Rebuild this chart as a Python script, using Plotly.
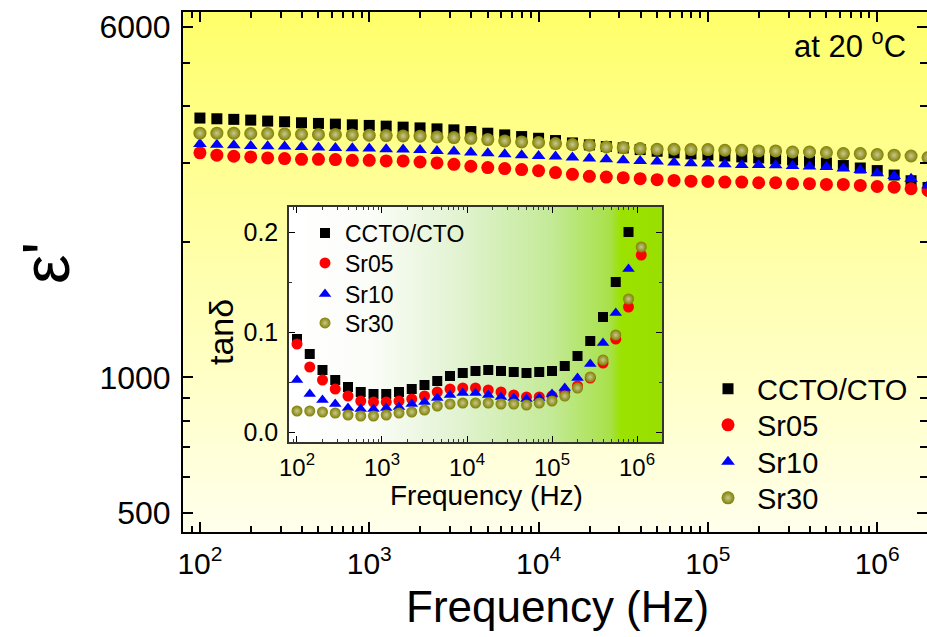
import base64
import plotly.graph_objects as go

# ---------------- data ----------------
freq_main = [100, 125.9, 158.5, 199.5, 251.2, 316.2, 398.1, 501.2, 631.0, 794.3,
             1000, 1259, 1585, 1995, 2512, 3162, 3981, 5012, 6310, 7943,
             10000, 12589, 15849, 19953, 25119, 31623, 39811, 50119, 63096, 79433,
             100000, 125893, 158489, 199526, 251189, 316228, 398107, 501187, 630957, 794328,
             1000000, 1258925, 1584893, 1995262]

eps_ccto = [3767, 3753, 3742, 3728, 3709, 3696, 3677, 3665, 3652, 3639,
            3628, 3614, 3596, 3582, 3564, 3546, 3516, 3486, 3456, 3427,
            3397, 3358, 3317, 3284, 3257, 3234, 3206, 3179, 3153, 3136,
            3120, 3103, 3088, 3072, 3056, 3040, 3020, 2994, 2955, 2918,
            2880, 2815, 2734, 2642]
eps_sr05 = [3153, 3115, 3099, 3088, 3072, 3062, 3051, 3051, 3046, 3035,
            3035, 3025, 3025, 3009, 2994, 2974, 2944, 2924, 2909, 2894,
            2879, 2850, 2825, 2796, 2786, 2777, 2763, 2749, 2738, 2728,
            2724, 2715, 2715, 2706, 2706, 2693, 2693, 2683, 2683, 2669,
            2655, 2646, 2624, 2601]
eps_sr10 = [3297, 3285, 3278, 3267, 3262, 3257, 3250, 3240, 3234, 3228,
            3223, 3212, 3206, 3200, 3184, 3174, 3157, 3146, 3130, 3115,
            3103, 3094, 3078, 3062, 3051, 3035, 3025, 3016, 3000, 2989,
            2985, 2974, 2963, 2963, 2958, 2948, 2939, 2933, 2909, 2888,
            2840, 2800, 2763, 2669]
eps_sr30 = [3486, 3486, 3486, 3481, 3481, 3474, 3468, 3463, 3463, 3456,
            3450, 3445, 3438, 3433, 3420, 3410, 3397, 3375, 3351, 3334,
            3324, 3307, 3290, 3278, 3250, 3240, 3223, 3212, 3212, 3206,
            3206, 3195, 3195, 3184, 3184, 3167, 3167, 3157, 3141, 3141,
            3125, 3115, 3103, 3078]

freq_inset = [100, 141.3, 199.5, 281.8, 398.1, 562.3, 794.3, 1122, 1585, 2239,
              3162, 4467, 6310, 8913, 12589, 17783, 25119, 35481, 50119, 70795,
              100000, 141254, 199526, 281838, 398107, 562341, 794328, 1122018]

tan_ccto = [0.093, 0.078, 0.062, 0.052, 0.045, 0.040, 0.038, 0.038, 0.040, 0.043,
            0.047, 0.051, 0.056, 0.059, 0.061, 0.062, 0.061, 0.060, 0.059, 0.060,
            0.061, 0.066, 0.076, 0.091, 0.115, 0.150, 0.200, 0.26]
tan_sr05 = [0.088, 0.065, 0.052, 0.043, 0.036, 0.031, 0.030, 0.030, 0.031, 0.033,
            0.036, 0.040, 0.043, 0.044, 0.044, 0.042, 0.040, 0.037, 0.035, 0.035,
            0.036, 0.040, 0.046, 0.054, 0.069, 0.093, 0.125, 0.177]
tan_sr10 = [0.052, 0.038, 0.032, 0.028, 0.024, 0.023, 0.023, 0.024, 0.025, 0.028,
            0.030, 0.034, 0.037, 0.039, 0.039, 0.037, 0.035, 0.034, 0.033, 0.034,
            0.038, 0.044, 0.054, 0.068, 0.089, 0.119, 0.163, 0.228]
tan_sr30 = [0.021, 0.021, 0.020, 0.019, 0.017, 0.016, 0.016, 0.017, 0.019, 0.020,
            0.022, 0.026, 0.028, 0.029, 0.029, 0.029, 0.028, 0.028, 0.027, 0.029,
            0.031, 0.036, 0.044, 0.055, 0.072, 0.097, 0.133, 0.185]

series_names = ["CCTO/CTO", "Sr05", "Sr10", "Sr30"]

x_tickvals = [1e2, 1e3, 1e4, 1e5, 1e6]
x_ticktext = ["10<sup>2</sup>", "10<sup>3</sup>", "10<sup>4</sup>", "10<sup>5</sup>", "10<sup>6</sup>"]
y_tickvals = [500, 1000, 6000]
y_ticktext = ["500", "1000", "6000"]
y_minor = [600, 700, 800, 900, 2000, 3000, 4000, 5000]
tan_tickvals = [0.0, 0.1, 0.2]
tan_ticktext = ["0.0", "0.1", "0.2"]

# ---------------- styling ----------------
W, H = 927, 637
FONT = "Liberation Sans, Arial, sans-serif"
colors = ["#000000", "#ff0000", "#0000ff", "#7f7f00"]
symbols = ["square", "circle", "triangle-up", "circle"]
SPHERE = "#c8c890"

x_minor = [m * 10 ** e for e in range(1, 7) for m in range(2, 10)]


def px_x(p):
    return p / W


def px_y(p):
    return 1 - p / H


# main plot area in pixels
ML, MR, MT, MB = 183, 927, 12, 532
# inset plot area in pixels
IL, IR, IT, IB = 289, 662, 207, 442


def svg_uri(svg):
    return "data:image/svg+xml;base64," + base64.b64encode(svg.encode()).decode()


main_bg = svg_uri(
    '<svg xmlns="http://www.w3.org/2000/svg" width="100" height="100" preserveAspectRatio="none">'
    '<defs><linearGradient id="g" x1="0" y1="0" x2="0" y2="1">'
    '<stop offset="0" stop-color="#ffff6a"/><stop offset="0.5" stop-color="#ffffae"/>'
    '<stop offset="1" stop-color="#ffffec"/></linearGradient></defs>'
    '<rect width="100" height="100" fill="url(#g)"/></svg>')
inset_bg = svg_uri(
    '<svg xmlns="http://www.w3.org/2000/svg" width="100" height="100" preserveAspectRatio="none">'
    '<defs><linearGradient id="g" x1="0" y1="0" x2="1" y2="0">'
    '<stop offset="0" stop-color="#ffffff"/><stop offset="0.22" stop-color="#fbfdf8"/>'
    '<stop offset="0.45" stop-color="#e2f3d2"/><stop offset="0.7" stop-color="#c4ea98"/>'
    '<stop offset="0.86" stop-color="#a8e14a"/><stop offset="0.89" stop-color="#9be200"/>'
    '<stop offset="1" stop-color="#99e000"/></linearGradient></defs>'
    '<rect width="100" height="100" fill="url(#g)"/></svg>')

fig = go.Figure()

main_vals = [eps_ccto, eps_sr05, eps_sr10, eps_sr30]
inset_vals = [tan_ccto, tan_sr05, tan_sr10, tan_sr30]
main_sizes = [11, 13, 12, 13]
inset_sizes = [10, 11, 11, 11]
main_legends = ["legend", "legend3", "legend4", "legend5"]
inset_legends = ["legend2", "legend6", "legend7", "legend8"]
main_rows = [389, 425, 462, 498]      # legend row centres (px)
inset_rows = [233, 263, 294, 323]

for i, name in enumerate(series_names):
    marker = dict(symbol=symbols[i], size=main_sizes[i], color=colors[i], line=dict(width=0))
    if i == 3:
        marker["gradient"] = dict(type="radial", color=SPHERE)
    fig.add_trace(go.Scatter(x=freq_main, y=main_vals[i], mode="markers", name=name,
                             showlegend=True, marker=marker, xaxis="x", yaxis="y",
                             legend=main_legends[i]))

for i, name in enumerate(series_names):
    marker = dict(symbol=symbols[i], size=inset_sizes[i], color=colors[i], line=dict(width=0))
    if i == 3:
        marker["gradient"] = dict(type="radial", color=SPHERE)
    fig.add_trace(go.Scatter(x=freq_inset, y=inset_vals[i], mode="markers", name=name,
                             showlegend=True, marker=marker, xaxis="x2", yaxis="y2",
                             legend=inset_legends[i]))

axis_common = dict(showgrid=False, zeroline=False, showline=True, mirror="ticks",
                   ticks="inside", color="black", linecolor="black", automargin=False)

legend_layout = {}
for i in range(4):
    legend_layout[main_legends[i]] = dict(
        x=px_x(699), y=px_y(main_rows[i]), xanchor="left", yanchor="middle",
        bgcolor="rgba(0,0,0,0)", borderwidth=0, itemwidth=48, visible=True,
        font=dict(size=29, family=FONT))
    legend_layout[inset_legends[i]] = dict(
        x=px_x(305), y=px_y(inset_rows[i]), xanchor="left", yanchor="middle",
        bgcolor="rgba(0,0,0,0)", borderwidth=0, visible=True,
        font=dict(size=23, family=FONT))

fig.update_layout(
    width=W, height=H,
    showlegend=True,
    margin=dict(l=0, r=0, t=0, b=0, autoexpand=False),
    paper_bgcolor="white",
    plot_bgcolor="rgba(0,0,0,0)",
    font=dict(family=FONT, color="black"),
    xaxis=dict(axis_common, type="log", domain=[px_x(ML), px_x(MR)],
               range=[1.9, 6.294], anchor="y",
               tickmode="array", tickvals=x_tickvals, ticktext=x_ticktext,
               ticklen=10, tickwidth=2, linewidth=2,
               tickfont=dict(size=30, family=FONT), ticklabelstandoff=4,
               minor=dict(ticks="inside", ticklen=6, tickwidth=1.5, tickcolor="black",
                          tickmode="array", tickvals=x_minor)),
    yaxis=dict(axis_common, type="log", domain=[px_y(MB), px_y(MT)],
               range=[2.6568, 3.8115], anchor="x",
               tickmode="array", tickvals=y_tickvals, ticktext=y_ticktext,
               ticklen=10, tickwidth=2, linewidth=2,
               tickfont=dict(size=32, family=FONT), ticklabelstandoff=4,
               minor=dict(ticks="inside", ticklen=7, tickwidth=1.5, tickcolor="black",
                          tickmode="array", tickvals=y_minor)),
    xaxis2=dict(axis_common, type="log", domain=[px_x(IL), px_x(IR)],
                range=[1.906, 6.294], anchor="y2",
                linecolor="#333333", linewidth=1.5,
                tickmode="array", tickvals=x_tickvals, ticktext=x_ticktext,
                ticklen=6, tickwidth=1.2,
                tickfont=dict(size=24, family=FONT), ticklabelstandoff=3,
                minor=dict(ticks="inside", ticklen=3, tickwidth=1, tickcolor="#333333",
                           tickmode="array", tickvals=x_minor)),
    yaxis2=dict(axis_common, domain=[px_y(IB), px_y(IT)],
                range=[-0.01, 0.225], anchor="x2",
                linecolor="#333333", linewidth=1.5,
                tickmode="array", tickvals=tan_tickvals, ticktext=tan_ticktext,
                ticklen=6, tickwidth=1.2,
                tickfont=dict(size=25, family=FONT), ticklabelstandoff=4,
                minor=dict(ticks="inside", ticklen=3, tickwidth=1, tickcolor="#333333",
                           dtick=0.05)),
    images=[
        dict(source=main_bg, xref="paper", yref="paper", x=px_x(ML), y=px_y(MT),
             sizex=px_x(MR) - px_x(ML), sizey=px_y(MT) - px_y(MB),
             xanchor="left", yanchor="top", sizing="stretch", layer="below"),
        dict(source=inset_bg, xref="paper", yref="paper", x=px_x(IL), y=px_y(IT),
             sizex=px_x(IR) - px_x(IL), sizey=px_y(IT) - px_y(IB),
             xanchor="left", yanchor="top", sizing="stretch", layer="below"),
    ],
    annotations=[
        dict(text="Frequency (Hz)", xref="paper", yref="paper", x=px_x(557), y=px_y(606),
             xanchor="center", yanchor="middle", showarrow=False, font=dict(size=44, family=FONT)),
        dict(text="ε'", xref="paper", yref="paper", x=px_x(46), y=px_y(263),
             xanchor="center", yanchor="middle", textangle=-90, showarrow=False,
             font=dict(size=66, family=FONT)),
        dict(text="Frequency (Hz)", xref="paper", yref="paper", x=px_x(486), y=px_y(495),
             xanchor="center", yanchor="middle", showarrow=False, font=dict(size=28, family=FONT)),
        dict(text="tanδ", xref="paper", yref="paper", x=px_x(221), y=px_y(332),
             xanchor="center", yanchor="middle", textangle=-90, showarrow=False,
             font=dict(size=34, family=FONT)),
        dict(text="at 20 <sup>o</sup>C", xref="paper", yref="paper", x=px_x(908), y=px_y(44),
             xanchor="right", yanchor="middle", showarrow=False, font=dict(size=31, family=FONT)),
    ],
)
fig.update_layout(**legend_layout)

fig.write_html("out.html")
